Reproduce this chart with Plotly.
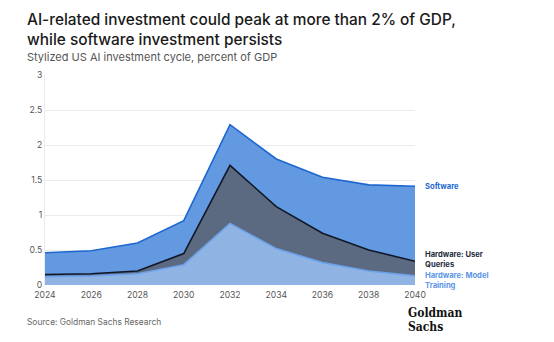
import plotly.graph_objects as go

years = [2024, 2026, 2028, 2030, 2032, 2034, 2036, 2038, 2040]
model_training = [0.12, 0.13, 0.16, 0.29, 0.88, 0.52, 0.32, 0.20, 0.13]
user_queries = [0.03, 0.03, 0.04, 0.16, 0.83, 0.60, 0.42, 0.30, 0.21]
software = [0.31, 0.33, 0.40, 0.47, 0.58, 0.68, 0.80, 0.93, 1.07]

y_ticks = [0, 0.5, 1, 1.5, 2, 2.5, 3]
y_tick_text = ["0", "0.5", "1", "1.5", "2", "2.5", "3"]

FONT = "Inter, Roboto, sans-serif"

fig = go.Figure()
series = [
    ("Hardware: Model Training", model_training, "#8fb4e4", "#6da2ea"),
    ("Hardware: User Queries", user_queries, "#5b6a80", "#101828"),
    ("Software", software, "#6399e1", "#1d67d1"),
]
for name, vals, fill, line in series:
    fig.add_trace(go.Scatter(
        x=years, y=vals, name=name, mode="lines",
        stackgroup="ai", fillcolor=fill,
        line=dict(color=line, width=1.6),
        hoverinfo="x+y+name",
    ))

# cumulative tops for label placement
top_training = model_training[-1]
top_queries = top_training + user_queries[-1]
top_total = top_queries + software[-1]

labels = [
    ("Software", top_total, 0, "#1d67d1"),
    ("Hardware: User<br>Queries", top_queries, 2, "#1e2a3c"),
    ("Hardware: Model<br>Training", top_training, -5, "#5b95e6"),
]
for text, y, ys, col in labels:
    fig.add_annotation(
        x=2040, y=y, xref="x", yref="y", text="<b>" + text + "</b>",
        showarrow=False, xanchor="left", yanchor="middle", align="left",
        xshift=8, yshift=ys,
        font=dict(family=FONT, size=7.6, color=col),
    )

fig.add_annotation(
    xref="paper", yref="paper", x=-0.055, y=1.32, xanchor="left", yanchor="top",
    text="AI-related investment could peak at more than 2% of GDP,<br>while software investment persists",
    showarrow=False, align="left",
    font=dict(family=FONT, size=15.4, color="#1a1a1a", weight=500),
)
fig.add_annotation(
    xref="paper", yref="paper", x=-0.055, y=1.13, xanchor="left", yanchor="top",
    text="Stylized US AI investment cycle, percent of GDP",
    showarrow=False, align="left",
    font=dict(family=FONT, size=11, color="#555555"),
)
fig.add_annotation(
    xref="paper", yref="paper", x=-0.055, y=-0.176, xanchor="left", yanchor="middle",
    text="Source: Goldman Sachs Research",
    showarrow=False, align="left",
    font=dict(family=FONT, size=8.4, color="#666666"),
)
for word, yp in [("Goldman", -0.133), ("Sachs", -0.2)]:
    fig.add_annotation(
        xref="paper", yref="paper", x=0.975, y=yp, xanchor="left", yanchor="middle",
        text="<b>" + word + "</b>",
        showarrow=False, align="left",
        font=dict(family="DejaVu Serif Condensed, Liberation Serif, serif", size=12, color="#111111"),
    )

fig.update_layout(
    width=554, height=342,
    margin=dict(l=45, r=139, t=75, b=57),
    paper_bgcolor="white", plot_bgcolor="white",
    showlegend=False,
    font=dict(family=FONT, size=8.6, color="#555555"),
    xaxis=dict(
        range=[2024, 2040], tickvals=years, ticktext=[str(y) for y in years],
        showgrid=False, zeroline=False, showline=False,
        ticks="", ticklabelstandoff=3, tickfont=dict(size=8.6, color="#555555"),
    ),
    yaxis=dict(
        range=[0, 3], tickvals=y_ticks, ticktext=y_tick_text,
        showgrid=True, gridcolor="#ebebeb", gridwidth=1, zeroline=False,
        showline=True, linecolor="#ebebeb", ticks="",
        tickfont=dict(size=8.6, color="#555555"),
    ),
)

fig.write_html("out.html")
